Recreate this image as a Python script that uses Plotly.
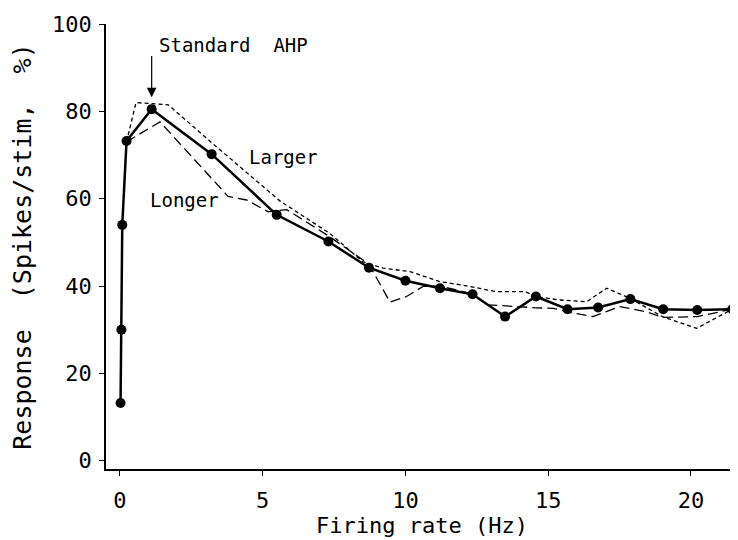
import plotly.graph_objects as go

# Standard AHP (solid line with dots)
std_x = [0.02, 0.05, 0.08, 0.23, 1.11, 3.21, 5.49, 7.30, 8.72, 10.0, 11.21,
         12.35, 13.49, 14.57, 15.68, 16.75, 17.88, 19.03, 20.22, 21.45]
std_y = [13.2, 30.0, 54.0, 73.2, 80.5, 70.2, 56.3, 50.2, 44.2, 41.2, 39.5,
         38.1, 33.0, 37.6, 34.7, 35.1, 37.0, 34.7, 34.5, 34.7]

# Larger AHP (short dashes)
larger_x = [0.23, 0.56, 1.69, 3.27, 5.6, 7.36, 8.5, 9.22, 10.16, 11.2, 12.0,
            13.2, 14.2, 14.57, 15.4, 16.35, 17.05, 17.86, 19.0, 20.2, 21.45]
larger_y = [73.0, 82.0, 81.5, 72.5, 59.5, 52.0, 45.6, 44.1, 43.3, 41.0, 40.2,
            38.7, 38.7, 37.6, 36.8, 36.4, 39.5, 37.2, 33.0, 30.3, 34.7]

# Longer AHP (long dashes)
longer_x = [0.23, 1.4, 3.79, 4.44, 5.19, 5.84, 7.30, 8.72, 9.46, 10.04, 10.62,
            11.21, 12.35, 12.85, 13.9, 14.57, 15.18, 15.87, 16.57, 17.51, 18.44,
            19.03, 20.22, 21.45]
longer_y = [73.0, 77.6, 60.5, 59.7, 57.0, 57.5, 51.5, 45.0, 36.3, 37.6, 39.9,
            40.0, 38.2, 35.7, 35.3, 35.0, 34.9, 33.8, 33.0, 35.3, 34.1,
            32.8, 33.0, 34.7]

x_ticks = [0, 5, 10, 15, 20]
y_ticks = [0, 20, 40, 60, 80, 100]

FONT = "DejaVu Sans Mono"

fig = go.Figure()
fig.add_trace(go.Scatter(x=larger_x, y=larger_y, mode="lines",
                         line=dict(color="black", width=1.3, dash="4px,3px"),
                         showlegend=False, cliponaxis=False))
fig.add_trace(go.Scatter(x=longer_x, y=longer_y, mode="lines",
                         line=dict(color="black", width=1.3, dash="10px,5px"),
                         showlegend=False, cliponaxis=False))
fig.add_trace(go.Scatter(x=std_x, y=std_y, mode="lines+markers",
                         line=dict(color="black", width=2.5),
                         marker=dict(color="black", size=10, symbol="circle"),
                         showlegend=False, cliponaxis=False))

fig.add_annotation(x=1.11, y=83.2, ax=1.11, ay=93.0, xref="x", yref="y",
                   axref="x", ayref="y", text="", showarrow=True,
                   arrowhead=2, arrowsize=1.6, arrowwidth=1.2, arrowcolor="black")
fig.add_annotation(x=1.29, y=95.2, xref="x", yref="y", text="Standard  AHP",
                   showarrow=False, xanchor="left", yanchor="middle",
                   font=dict(family=FONT, size=19, color="black"))
fig.add_annotation(x=4.44, y=69.5, xref="x", yref="y", text="Larger",
                   showarrow=False, xanchor="left", yanchor="middle",
                   font=dict(family=FONT, size=19, color="black"))
fig.add_annotation(x=0.99, y=59.7, xref="x", yref="y", text="Longer",
                   showarrow=False, xanchor="left", yanchor="middle",
                   font=dict(family=FONT, size=19, color="black"))

# page body has an 8px margin, so the figure is offset by 8px in the window
fig.update_layout(
    width=738, height=540,
    margin=dict(l=98, r=8, t=16, b=79, autoexpand=False),
    paper_bgcolor="white", plot_bgcolor="white",
    font=dict(family=FONT, size=22, color="black"),
    xaxis=dict(range=[-0.49, 21.65], tickvals=x_ticks, ticks="outside",
               ticklen=5, tickwidth=1, tickcolor="black", showline=True,
               linecolor="black", linewidth=1.5, showgrid=False, zeroline=False,
               automargin=False, ticklabelstandoff=6,
               title=dict(text="Firing rate (Hz)", font=dict(size=22), standoff=0),
               tickfont=dict(size=22)),
    yaxis=dict(range=[-1.9, 100], tickvals=y_ticks, ticks="outside",
               ticklen=5, tickwidth=1, tickcolor="black", showline=True,
               linecolor="black", linewidth=1.5, showgrid=False, zeroline=False,
               automargin=False, ticklabelstandoff=3,
               title=dict(text="Response  (Spikes/stim,  %)", font=dict(size=25),
                          standoff=14),
               tickfont=dict(size=22)),
)

fig.write_html("out.html")
